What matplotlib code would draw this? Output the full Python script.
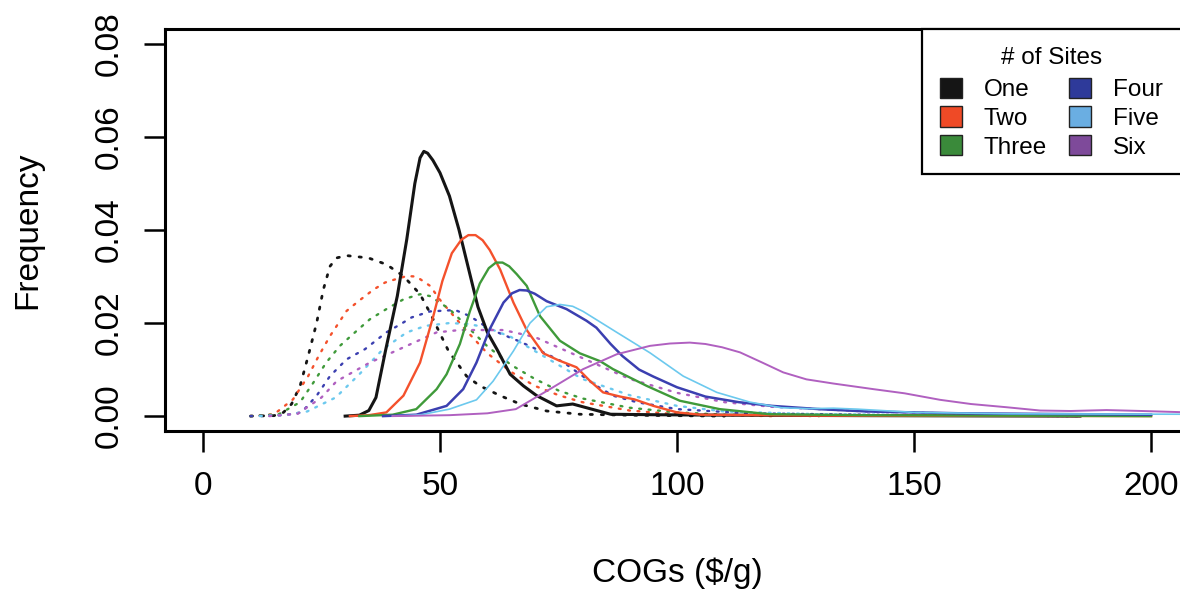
import matplotlib
matplotlib.use("Agg")
import matplotlib.pyplot as plt
from matplotlib.patches import Patch, Rectangle

plt.rcParams["font.family"] = ["Liberation Sans", "DejaVu Sans"]

SITES = ["One", "Two", "Three", "Four", "Five", "Six"]
COLORS = ["#151515", "#f4512c", "#3f9a3a", "#3b3fb0", "#6cc9ee", "#b060c0"]
LEGEND_FILL = ["#151515", "#ef4a26", "#3a8a3a", "#2e3a9a", "#6aaee2", "#7e4a9a"]

# solid curves (density of COGs, $/g)
one_x = [30, 33, 35, 36.5, 38.5, 41, 43, 44.7, 45.8, 46.6, 47.4, 48.5, 50, 52, 54, 56, 58, 60,
         62, 64.8, 67.6, 70.4, 74.6, 78, 82, 86, 95, 110, 140, 185]
one_y = [0, 0.0002, 0.0012, 0.0040, 0.0140, 0.0258, 0.0380, 0.0500, 0.0555, 0.0569, 0.0565,
         0.0550, 0.0523, 0.0473, 0.0401, 0.0318, 0.0235, 0.0180, 0.0144, 0.0090, 0.0065,
         0.0044, 0.0022, 0.0026, 0.0015, 0.0004, 0.0003, 0.0002, 0.0001, 0.0]
two_x = [31, 35, 38.7, 42.3, 45.8, 48.6, 50.5, 52.5, 54.5, 56, 57.5, 59, 60.5, 62.7, 65.5, 68.3,
         71.8, 75, 78.8, 81.6, 84.4, 88, 91, 95, 100, 105, 130, 200]
two_y = [0, 0.0002, 0.0008, 0.0044, 0.0115, 0.0215, 0.0290, 0.0350, 0.0379, 0.0389, 0.0389,
         0.0378, 0.0357, 0.0315, 0.0244, 0.0185, 0.0135, 0.0120, 0.0105, 0.0076, 0.0051,
         0.0042, 0.0036, 0.0022, 0.0008, 0.0003, 0.0001, 0]
three_x = [33, 40, 45, 49.3, 51.4, 54.2, 56.3, 58.4, 60.3, 61.8, 63.2, 64.6, 66.2, 68.3, 71.1,
           75.3, 79.5, 83.8, 86.5, 93.6, 100.6, 109, 119.6, 140, 200]
three_y = [0, 0.0003, 0.0015, 0.0058, 0.0090, 0.0155, 0.0225, 0.0285, 0.0318, 0.0330, 0.0330,
           0.0322, 0.0305, 0.0280, 0.0215, 0.0162, 0.0135, 0.0118, 0.0101, 0.0065, 0.0033,
           0.0015, 0.0004, 0.0002, 0]
four_x = [38, 45, 51.4, 54.9, 57.7, 60.5, 63.4, 65.2, 66.8, 68.3, 70, 72.5, 76.7, 80.9, 83,
          86, 88.5, 92, 95, 100, 106, 113, 120, 130, 140, 160, 200]
four_y = [0, 0.0003, 0.0022, 0.0058, 0.0115, 0.0187, 0.0244, 0.0264, 0.0271, 0.0270, 0.0263,
          0.0247, 0.0230, 0.0205, 0.0190, 0.0155, 0.0129, 0.0100, 0.0085, 0.0062, 0.0042,
          0.0030, 0.0022, 0.0015, 0.0010, 0.0006, 0.0003]
five_x = [40, 46, 52, 57.7, 61.2, 65.5, 69, 72.5, 75.3, 78, 80.2, 87.3, 94.3, 101.3, 108.4,
          115.4, 122, 128, 133, 138, 150, 170, 208]
five_y = [0, 0.0003, 0.0015, 0.0035, 0.0075, 0.0140, 0.0200, 0.0235, 0.0240, 0.0236, 0.0225,
          0.0180, 0.0136, 0.0086, 0.0051, 0.0030, 0.0018, 0.0016, 0.0017, 0.0015, 0.0008,
          0.0005, 0.0004]
six_x = [40, 52, 60, 66, 73.2, 80.2, 87.3, 94.3, 98.5, 102.7, 106, 109.5, 113.3, 118, 122.4,
         127.3, 133, 141.4, 148, 155.5, 162, 169.6, 176.6, 183, 190.6, 198, 208]
six_y = [0, 0.0002, 0.0006, 0.0015, 0.0058, 0.0101, 0.0133, 0.0151, 0.0156, 0.0158, 0.0155,
         0.0148, 0.0137, 0.0115, 0.0094, 0.0079, 0.0070, 0.0058, 0.0049, 0.0035, 0.0026,
         0.0019, 0.0012, 0.0011, 0.0013, 0.0011, 0.0008]

# dotted curves
one_d_x = [10, 15, 17, 18.7, 20.5, 22.2, 24, 25.4, 26.8, 28.2, 30.3, 34.9, 38.7, 42.3, 45.8,
           47.9, 51.8, 55.6, 58.4, 62.7, 66.9, 72.5, 79.5, 90, 110]
one_d_y = [0, 0.0001, 0.0008, 0.0026, 0.0065, 0.0129, 0.0201, 0.0272, 0.0322, 0.0340, 0.0345,
           0.0340, 0.0326, 0.0301, 0.0262, 0.0222, 0.0140, 0.0086, 0.0065, 0.0044, 0.0026,
           0.0011, 0.0004, 0.0002, 0]
two_d_x = [10, 15, 19, 22.2, 24.4, 26.8, 30.3, 32.8, 36, 38.4, 40.9, 43, 45, 47.9, 50, 55, 60,
           65, 70, 75, 80, 90, 100, 120]
two_d_y = [0, 0.0004, 0.0036, 0.0086, 0.0129, 0.0172, 0.0226, 0.0247, 0.0272, 0.0287, 0.0295,
           0.0301, 0.0300, 0.0280, 0.0250, 0.0190, 0.0135, 0.0095, 0.0065, 0.0045, 0.0030,
           0.0012, 0.0004, 0]
three_d_x = [10, 16, 20.5, 23.3, 26, 28.9, 32.4, 35.2, 38.7, 42.3, 45.8, 47.9, 52, 56, 60, 65,
             70, 75, 80, 90, 100, 110, 130]
three_d_y = [0, 0.0004, 0.0030, 0.0072, 0.0115, 0.0151, 0.0183, 0.0208, 0.0230, 0.0251, 0.0262,
             0.0258, 0.0230, 0.0190, 0.0150, 0.0110, 0.0080, 0.0055, 0.0038, 0.0018, 0.0008,
             0.0003, 0]
four_d_x = [10, 17, 20.8, 24, 26.8, 30.3, 34.2, 38.7, 41.6, 44, 47.9, 53.2, 56.3, 60.5, 66.9,
            71.8, 76, 79, 83, 86.5, 91.5, 100, 115, 140, 185]
four_d_y = [0, 0.0002, 0.0008, 0.0044, 0.0086, 0.0122, 0.0144, 0.0180, 0.0197, 0.0212, 0.0225,
            0.0228, 0.0215, 0.0187, 0.0160, 0.0137, 0.0116, 0.0094, 0.0065, 0.0044, 0.0030,
            0.0015, 0.0006, 0.0003, 0]
five_d_x = [12, 18, 22, 28, 33, 38, 43, 47, 52, 56, 60, 65, 70, 75, 80, 90, 100, 110, 130,
            160, 185]
five_d_y = [0, 0.0003, 0.0010, 0.0040, 0.0090, 0.0144, 0.0180, 0.0194, 0.0200, 0.0198, 0.0190,
            0.0170, 0.0140, 0.0110, 0.0080, 0.0045, 0.0022, 0.0010, 0.0004, 0.0002, 0]
six_d_x = [14, 20, 25, 28.2, 35.2, 43, 49.3, 54.2, 63.4, 70, 80, 90, 100, 110, 120, 140, 160,
           185]
six_d_y = [0, 0.0005, 0.0040, 0.0075, 0.0115, 0.0151, 0.0180, 0.0185, 0.0185, 0.0170, 0.0125,
           0.0080, 0.0050, 0.0030, 0.0020, 0.0010, 0.0005, 0]

solid = [(one_x, one_y), (two_x, two_y), (three_x, three_y),
         (four_x, four_y), (five_x, five_y), (six_x, six_y)]
dotted = [(one_d_x, one_d_y), (two_d_x, two_d_y), (three_d_x, three_d_y),
          (four_d_x, four_d_y), (five_d_x, five_d_y), (six_d_x, six_d_y)]
solid_lw = [2.2, 1.7, 1.7, 1.8, 1.2, 1.4]

fig = plt.figure(figsize=(11.8, 5.89), dpi=100)
# right edge of the plot box lies just past the image edge, as in the reference
ax = fig.add_axes([165 / 1180, 158 / 589, 1024 / 1180, 402 / 589])

for (dx, dy), c in zip(dotted, COLORS):
    lw = 2.0 if c == COLORS[0] else 1.7
    ax.plot(dx, dy, color=c, lw=lw, linestyle=(0, (0.8, 3.2)), dash_capstyle="round")
for (sx, sy), c, lw in zip(solid, COLORS, solid_lw):
    ax.plot(sx, sy, color=c, lw=lw, solid_joinstyle="round")

ax.set_xlim(-8, 208)
ax.set_ylim(-0.0032, 0.0832)
ax.set_xticks([0, 50, 100, 150, 200])
ax.set_yticks([0, 0.02, 0.04, 0.06, 0.08])
ax.set_yticklabels(["0.00", "0.02", "0.04", "0.06", "0.08"], rotation=90, va="center")
ax.tick_params(length=15, width=1.8, labelsize=24, pad=14)
for s in ax.spines.values():
    s.set_linewidth(2.2)

ax.set_xlabel("COGs ($/g)", fontsize=24, labelpad=40)
ax.set_ylabel("Frequency", fontsize=24, labelpad=36)

# legend box runs to the right edge of the plot, like R's topright legend
leg_x0 = (922 - 165) / 1024
leg_y0 = (431 - 174) / 402
ax.add_patch(Rectangle((leg_x0, leg_y0), 1 - leg_x0, 1 - leg_y0, transform=ax.transAxes,
                       facecolor="white", edgecolor="black", lw=1.6, zorder=4.5,
                       clip_on=False))
handles = [Patch(facecolor=f, edgecolor="#222222", linewidth=1.0) for f in LEGEND_FILL]
leg = ax.legend(handles, SITES, ncol=2, title="# of Sites", loc="upper left",
                bbox_to_anchor=(leg_x0, 1), borderaxespad=0, frameon=False,
                fontsize=17.5, title_fontsize=17.5, handlelength=0.9, handleheight=0.9,
                handletextpad=0.9, columnspacing=0.9, labelspacing=0.22, borderpad=0.75)
leg._legend_box.sep = 6  # extra room under the legend title

fig.savefig("out.png", dpi=100)
